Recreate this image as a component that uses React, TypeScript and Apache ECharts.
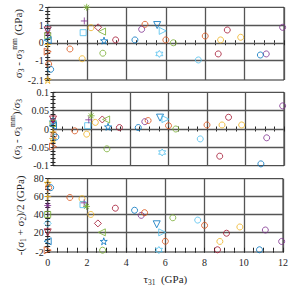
import React, { useEffect, useRef } from "react";
import * as echarts from "echarts";

// ---- data ----
const tau31 = [0, 0.05, 0.15, 0, 0, 0, 0, 0, 0, 0, 1.13, 1.75, 1.8, 1.86, 1.98, 2.2, 2.56, 2.76, 2.86, 2.8, 3.45, 4.43, 4.77, 4.94, 5.56, 5.84, 6.0, 5.67, 6.38, 7.65, 8.0, 9.12, 9.8, 8.78, 8.66, 11.1, 10.8, 11.93];
const dSigma3 = [-2.1, -1.2, -1.5, -0.1, 0.55, 0.4, 0.85, 0.7, 0.15, -0.5, -0.35, -0.9, 0.57, 1.23, 2.0, 0.85, 0.87, 0.63, 0.12, -0.59, 0.16, 0.16, 0.76, 1.04, 1.0, 0.67, 0.16, -0.63, 0.0, -0.97, 0.38, 0.72, 0.31, 0.16, -0.63, -0.63, -0.69, 0.87];
const relDSigma3 = [-0.028, -0.016, -0.022, -0.008, 0.02, 0.015, 0.022, 0.026, 0.009, -0.048, -0.005, -0.014, 0.009, 0.025, 0.036, 0.018, 0.026, 0.026, 0.006, -0.054, 0.004, 0.004, 0.02, 0.023, 0.031, 0.027, 0.009, -0.064, 0.0, -0.027, 0.011, 0.032, 0.011, 0.011, -0.074, -0.024, -0.095, 0.063];
const meanStress = [75, 70, 70, 60, 50, 40, 30, 20, 10, 0, 59, 57.6, 51, 53, 49, 40, 30, 20, 10, 0, 47, 44.7, 39, 42, 29, 20, 10, 0.2, 36.3, 33.7, 27.8, 19, 26, 9.8, 0.5, 22.6, 0.5, 9.8];
const pointSet = ["yPent", "oCirc", "bCirc", "yPlus", "pAst", "gSq", "cDia", "rTriD", "bTriL", "oTriR", "oCirc", "yCirc", "cSq", "pPlus", "gAst", "yCirc", "rDia", "gTriL", "bPent", "gCirc", "rCirc", "bCirc", "pCirc", "oCirc", "bTriD", "cTriR", "oCirc", "cHex", "gCirc", "cCirc", "oCirc", "rCirc", "yCirc", "yCirc", "rCirc", "pCirc", "bCirc", "pCirc"];
const xTicks = [0, 2, 4, 6, 8, 10, 12];
const yTicks1 = [-2.1, -1, 0, 1, 2];
const yTicks2 = [-0.1, -0.05, 0, 0.05, 0.1];
const yTicks3 = [-2, 20, 40, 60, 80];

// ---- styles ----
const F = "'Liberation Serif', 'Times New Roman', serif";
const INK = "#262626";
const GRID_C = "#555555";
const COLORS: Record<string, string> = {
  b: "#0072BD", o: "#D95319", y: "#EDB120", p: "#7E2F8E", g: "#77AC30", c: "#4DBEEE", r: "#A2142F",
};
const SHAPES: Record<string, string> = {
  Circ: "circle",
  Sq: "rect",
  Dia: "diamond",
  TriD: "path://M0,0 L10,0 L5,10 Z",
  TriL: "path://M10,0 L10,10 L0,5 Z",
  TriR: "path://M0,0 L0,10 L10,5 Z",
  Plus: "path://M5,0 L5,10 M0,5 L10,5",
  Ast: "path://M5,0 L5,10 M0,5 L10,5 M1.5,1.5 L8.5,8.5 M1.5,8.5 L8.5,1.5",
  Pent: "path://M5,0 L6.12,3.45 L9.76,3.45 L6.82,5.59 L7.94,9.05 L5,6.91 L2.06,9.05 L3.18,5.59 L0.24,3.45 L3.88,3.45 Z",
  Hex: "path://M5,0 L6.44,2.5 L9.33,2.5 L7.89,5 L9.33,7.5 L6.44,7.5 L5,10 L3.56,7.5 L0.67,7.5 L2.11,5 L0.67,2.5 L3.56,2.5 Z",
};
const SIZES: Record<string, number> = { Circ: 6, Sq: 6, Dia: 7, TriD: 7, TriL: 7, TriR: 7, Plus: 7, Ast: 7, Pent: 7, Hex: 7 };

const GRIDS = [
  { top: 7.3, height: 72.7 },
  { top: 92.3, height: 73.4 },
  { top: 178.7, height: 74.3 },
];
const LEFT = 47.7;
const WIDTH = 236.3;

const rich = {
  t: { fontFamily: F, fontSize: 11, color: INK, verticalAlign: "middle" },
  s: { fontFamily: F, fontSize: 7.5, color: INK, verticalAlign: "middle", padding: [7, 0, 0, 0] },
  p: { fontFamily: F, fontSize: 7.5, color: INK, verticalAlign: "middle", padding: [0, 0, 7, 0] },
};

const panelDefs = [
  { vals: dSigma3, ticks: yTicks1, minor: 0.2, name: "{t|σ}{s|3}{t| - σ}{s|3}{p|mm}{t| (GPa)}", gap: 22 },
  { vals: relDSigma3, ticks: yTicks2, minor: 0.01, name: "{t|(σ}{s|3}{t| - σ}{s|3}{p|mm}{t|)/σ}{s|3}", gap: 30 },
  { vals: meanStress, ticks: yTicks3, minor: 4, name: "{t|-(σ}{s|1}{t| + σ}{s|2}{t|)/2 (GPa)}", gap: 20 },
];

function minorValues(min: number, max: number, step: number) {
  const out: number[] = [];
  const start = Math.ceil(min / step - 1e-9);
  for (let k = start; k * step <= max + 1e-9; k++) out.push(Math.round(k * step * 1e6) / 1e6);
  return out;
}

function buildOption() {
  const grid = GRIDS.map((g) => ({
    left: LEFT, width: WIDTH, top: g.top, height: g.height,
    show: true, borderColor: INK, borderWidth: 1, backgroundColor: "transparent",
  }));
  const xAxis: any[] = [];
  const yAxis: any[] = [];
  const series: any[] = [];
  panelDefs.forEach((pd, g) => {
    const isBottom = g === 2;
    const xBase = {
      type: "value", gridIndex: g, min: xTicks[0], max: xTicks[xTicks.length - 1], interval: xTicks[1] - xTicks[0],
      axisLine: { show: false },
      axisTick: { inside: true, length: 2.5, lineStyle: { color: INK } },
      minorTick: { show: true, splitNumber: 4, length: 2.5, lineStyle: { color: INK } },
    };
    xAxis.push({
      ...xBase, position: "bottom",
      splitLine: { show: true, lineStyle: { color: GRID_C, width: 1.3 } },
      axisLabel: { show: isBottom, fontFamily: F, fontSize: 10, color: INK, margin: 5 },
      name: isBottom ? "{t|τ}{s|31}{t|  (GPa)}" : "",
      nameLocation: "middle", nameGap: 19, nameMoveOverlap: false,
      nameTextStyle: { rich },
    });
    xAxis.push({ ...xBase, position: "top", splitLine: { show: false }, axisLabel: { show: false } });

    const ymin = pd.ticks[0];
    const ymax = pd.ticks[pd.ticks.length - 1];
    const allTicks = Array.from(new Set([...pd.ticks, ...minorValues(ymin, ymax, pd.minor)])).sort((a, b) => a - b);
    const yBase = {
      type: "value", gridIndex: g, min: ymin, max: ymax,
      axisLine: { show: false }, splitLine: { show: false },
      axisTick: { inside: true, length: 2.5, customValues: allTicks, lineStyle: { color: INK } },
    };
    yAxis.push({
      ...yBase, position: "left",
      axisLabel: { customValues: pd.ticks, fontFamily: F, fontSize: 10, color: INK, margin: 4 },
      name: pd.name, nameLocation: "middle", nameGap: pd.gap, nameMoveOverlap: false,
      nameTextStyle: { rich },
    });
    yAxis.push({ ...yBase, position: "right", axisLabel: { show: false } });

    const inner = pd.ticks.slice(1, -1);
    series.push({
      type: "scatter",
      xAxisIndex: g * 2,
      yAxisIndex: g * 2,
      clip: false,
      data: tau31.map((x, i) => {
        const key = pointSet[i];
        const col = COLORS[key[0]];
        const shp = key.slice(1);
        return {
          value: [x, pd.vals[i]],
          symbol: SHAPES[shp],
          symbolSize: SIZES[shp],
          itemStyle: { color: "rgba(0,0,0,0)", borderColor: col, borderWidth: 1 },
        };
      }),
      markLine: {
        silent: true, symbol: "none", z: 1,
        label: { show: false },
        lineStyle: { type: "solid", color: GRID_C, width: 1.3 },
        data: inner.map((v) => ({ yAxis: v })),
      },
    });
  });
  return { animation: false, grid, xAxis, yAxis, series };
}

export default function App() {
  const ref = useRef<HTMLDivElement>(null);
  useEffect(() => {
    const chart = echarts.init(ref.current!, null, { renderer: "svg" });
    chart.setOption(buildOption() as any);
    return () => chart.dispose();
  }, []);
  return <div ref={ref} style={{ position: "absolute", left: 0, top: 0, width: 291, height: 287 }} />;
}
